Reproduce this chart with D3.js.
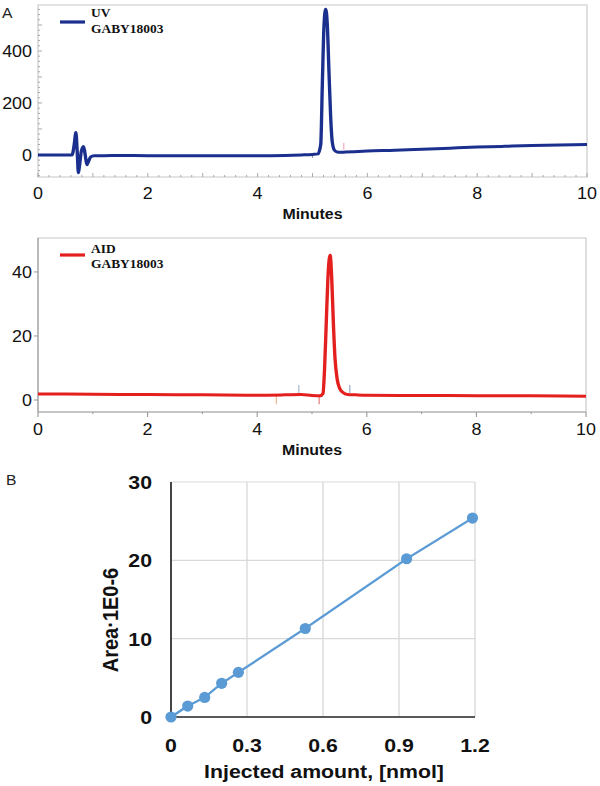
<!DOCTYPE html>
<html><head><meta charset="utf-8">
<script src="https://cdn.jsdelivr.net/npm/d3@7"></script>
<style>body{margin:0;background:#fff}svg{display:block}</style>
</head><body>
<script>
// ---------- data ----------
const uvTime   = [0,0.5,0.62,0.66,0.69,0.715,0.735,0.76,0.79,0.83,0.86,0.89,0.92,0.96,1.02,1.2,1.5,2,2.5,3,3.5,4,4.5,4.8,5.0,5.1,5.15,5.18,5.21,5.24,5.27,5.30,5.33,5.36,5.40,5.45,5.5,5.6,6,6.5,7,7.5,8,8.5,9,9.5,10];
const uvSignal = [0,0,0,40,86,10,-69,-35,15,32,0,-38,-25,-8,-3,-3,-2,-3,-3,-3,-3,-3,-2,0,2,4,40,280,500,561,500,320,150,50,18,11,10,11,15,18,22,26,30,33,36,38,40];
const aidTime   = [0,1,2,3,4,4.5,4.8,5.0,5.15,5.2,5.23,5.26,5.29,5.33,5.36,5.39,5.42,5.46,5.5,5.56,5.65,5.8,6,7,8,9,10];
const aidSignal = [1.9,1.8,1.7,1.6,1.5,1.6,1.7,1.4,1.3,2,10,24,38,45.3,38,24,13,6.5,3.8,2.4,1.7,1.6,1.5,1.4,1.35,1.3,1.2];
const uvMarks  = [{t:5.0, lo:-12, hi:-3, c:"#9a9a9a"}, {t:5.57, lo:20, hi:46, c:"#f0a0b8"}];
const aidMarks = [{t:4.35, lo:-1.3, hi:1.5, c:"#f2b48a"}, {t:4.76, lo:2.2, hi:4.7, c:"#9fb0cc"},
                  {t:5.13, lo:-1.3, hi:1.5, c:"#e07070"}, {t:5.69, lo:2.2, hi:4.7, c:"#8fa4c8"}];
const minuteTicks = [0,2,4,6,8,10];
const uvYTicks  = [0,200,400];
const aidYTicks = [0,20,40];
const amount = [0,0.066,0.133,0.2,0.266,0.53,0.93,1.19];
const area   = [0,1.4,2.5,4.3,5.7,11.3,20.2,25.4];
const amountTicks = [0,0.3,0.6,0.9,1.2];
const areaTicks   = [0,10,20,30];

// ---------- setup ----------
const SX = 1.12, W = 600, H = 786;
const X = p => p / SX;
const svg = d3.select("body").append("svg")
  .attr("width", W).attr("height", H)
  .attr("viewBox", `0 0 ${W/SX} ${H}`)
  .attr("preserveAspectRatio", "none")
  .style("font-family", "Liberation Sans, Arial, sans-serif");

const UVC = "#1b2f8e", AIDC = "#e3201d", BC = "#5b9bd5";

function chromatogram(opt){
  const g = svg.append("g");
  const x = d3.scaleLinear().domain([0,10]).range([X(opt.left), X(opt.right)]);
  const y = d3.scaleLinear().domain(opt.ydom).range([opt.bottom, opt.top]);
  g.append("rect").attr("x", x(0)).attr("y", opt.top).attr("width", x(10)-x(0)).attr("height", opt.bottom-opt.top)
    .attr("fill","none").attr("stroke","#d0d0d0").attr("stroke-width",1.2);
  if (opt.inward){
    const xt = d3.range(0,10.001,0.2);
    g.selectAll(".xm").data(xt).join("line")
      .attr("x1", d=>x(d)).attr("x2", d=>x(d))
      .attr("y1", opt.bottom).attr("y2", d=> opt.bottom - (Math.abs(d-Math.round(d))<1e-6 ? 4 : 2))
      .attr("stroke","#999").attr("stroke-width",0.8);
    const yt = d3.range(-80, opt.ydom[1], 20);
    g.selectAll(".ym").data(yt).join("line")
      .attr("x1", x(0)).attr("x2", d=> x(0) + (d%100===0 ? 4 : 2)/SX)
      .attr("y1", d=>y(d)).attr("y2", d=>y(d))
      .attr("stroke","#999").attr("stroke-width",0.8);
  } else {
    g.append("line").attr("x1",x(0)).attr("x2",x(10)).attr("y1",opt.bottom).attr("y2",opt.bottom).attr("stroke","#a8a8a8").attr("stroke-width",1.2);
    g.append("line").attr("x1",x(0)).attr("x2",x(0)).attr("y1",opt.bottom).attr("y2",opt.top).attr("stroke","#a8a8a8").attr("stroke-width",1.2);
    g.selectAll(".xm").data(d3.range(0,10.001,1)).join("line")
      .attr("x1", d=>x(d)).attr("x2", d=>x(d)).attr("y1", opt.bottom).attr("y2", d=> opt.bottom + (d%2===0?5:2))
      .attr("stroke","#999").attr("stroke-width",1);
    g.selectAll(".ym").data(opt.yticks).join("line")
      .attr("x1", x(0)).attr("x2", x(0)-4/SX).attr("y1", d=>y(d)).attr("y2", d=>y(d))
      .attr("stroke","#999").attr("stroke-width",1);
  }
  g.selectAll(".xl").data(minuteTicks).join("text")
    .attr("x", d=>x(d)).attr("y", opt.xlabY).attr("text-anchor","middle")
    .attr("font-size", 16).attr("fill","#111").text(d=>d);
  g.selectAll(".yl").data(opt.yticks).join("text")
    .attr("x", X(opt.ylabX)).attr("y", d=>y(d)).attr("dy","0.36em").attr("text-anchor","end")
    .attr("font-size", 16).attr("fill","#111").text(d=>d);
  g.append("text").attr("x", (x(0)+x(10))/2).attr("y", opt.titleY).attr("text-anchor","middle")
    .attr("font-size",14.2).attr("font-weight","bold").attr("fill","#111").text("Minutes");
  g.selectAll(".mk").data(opt.marks).join("line")
    .attr("x1", d=>x(d.t)).attr("x2", d=>x(d.t)).attr("y1", d=>y(d.lo)).attr("y2", d=>y(d.hi))
    .attr("stroke", d=>d.c).attr("stroke-width",1);
  const pts = opt.t.map((t,i)=>[t, opt.v[i]]);
  g.append("path").datum(pts)
    .attr("d", d3.line().x(d=>x(d[0])).y(d=>y(d[1])).curve(d3.curveMonotoneX))
    .attr("fill","none").attr("stroke", opt.color).attr("stroke-width",3).attr("stroke-linejoin","round");
  g.append("line").attr("x1",X(60)).attr("x2",X(85)).attr("y1",opt.legY).attr("y2",opt.legY)
    .attr("stroke",opt.color).attr("stroke-width",3.2);
  const lt = g.append("text").attr("font-family","Liberation Serif, Times New Roman, serif")
    .attr("font-weight","bold").attr("font-size",12).attr("fill","#111");
  lt.append("tspan").attr("x",X(91)).attr("y",opt.legY1).text(opt.name);
  lt.append("tspan").attr("x",X(91)).attr("y",opt.legY2).text("GABY18003");
}

chromatogram({left:38, right:587, top:5, bottom:177, ydom:[-85,577], yticks:uvYTicks, inward:true,
  xlabY:199, ylabX:32, titleY:219, t:uvTime, v:uvSignal, color:UVC, marks:uvMarks,
  legY:22, legY1:17.5, legY2:33.5, name:"UV"});
chromatogram({left:38, right:586, top:238, bottom:412, ydom:[-3.75,50.6], yticks:aidYTicks, inward:false,
  xlabY:435, ylabX:32, titleY:455, t:aidTime, v:aidSignal, color:AIDC, marks:aidMarks,
  legY:255, legY1:253, legY2:268, name:"AID"});

svg.append("text").attr("x",X(2)).attr("y",18).attr("font-size",14).attr("fill","#222").text("A");
svg.append("text").attr("x",X(6)).attr("y",485).attr("font-size",14).attr("fill","#222").text("B");

// ---------- panel B ----------
const bx = d3.scaleLinear().domain([0,1.2]).range([X(171), X(475)]);
const by = d3.scaleLinear().domain([0,30]).range([717, 482]);
const gb = svg.append("g");
gb.selectAll(".gx").data(amountTicks.slice(1)).join("line")
  .attr("x1",d=>bx(d)).attr("x2",d=>bx(d)).attr("y1",by(0)).attr("y2",by(30))
  .attr("stroke","#d9d9d9").attr("stroke-width",1.2);
gb.selectAll(".gy").data(areaTicks.slice(1)).join("line")
  .attr("x1",bx(0)).attr("x2",bx(1.2)).attr("y1",d=>by(d)).attr("y2",d=>by(d))
  .attr("stroke","#d9d9d9").attr("stroke-width",1.2);
gb.append("line").attr("x1",bx(0)).attr("x2",bx(1.2)).attr("y1",by(0)).attr("y2",by(0)).attr("stroke","#222").attr("stroke-width",1.5);
gb.append("line").attr("x1",bx(0)).attr("x2",bx(0)).attr("y1",by(0)).attr("y2",by(30)).attr("stroke","#222").attr("stroke-width",1.5);
gb.selectAll(".xl").data(amountTicks).join("text")
  .attr("x",d=>bx(d)).attr("y",752).attr("text-anchor","middle")
  .attr("font-size",19).attr("font-weight","bold").attr("fill","#111").text(d=>d);
gb.selectAll(".yl").data(areaTicks).join("text")
  .attr("x",X(152)).attr("y",d=>by(d)).attr("dy","0.36em").attr("text-anchor","end")
  .attr("font-size",19).attr("font-weight","bold").attr("fill","#111").text(d=>d);
gb.append("text").attr("x",X(324)).attr("y",778).attr("text-anchor","middle")
  .attr("font-size",19).attr("font-weight","bold").attr("fill","#111").text("Injected amount, [nmol]");
gb.append("text").attr("transform",`translate(${X(118)},620) rotate(-90)`).attr("text-anchor","middle")
  .attr("font-size",20).attr("font-weight","bold").attr("fill","#111").text("Area·1E0-6");
const bpts = amount.map((a,i)=>[a, area[i]]);
gb.append("path").datum(bpts)
  .attr("d", d3.line().x(d=>bx(d[0])).y(d=>by(d[1])))
  .attr("fill","none").attr("stroke",BC).attr("stroke-width",2.2);
gb.selectAll(".dot").data(bpts).join("ellipse")
  .attr("cx",d=>bx(d[0])).attr("cy",d=>by(d[1])).attr("rx",5.6/SX).attr("ry",5.6)
  .attr("fill",BC);
</script>
</body></html>
